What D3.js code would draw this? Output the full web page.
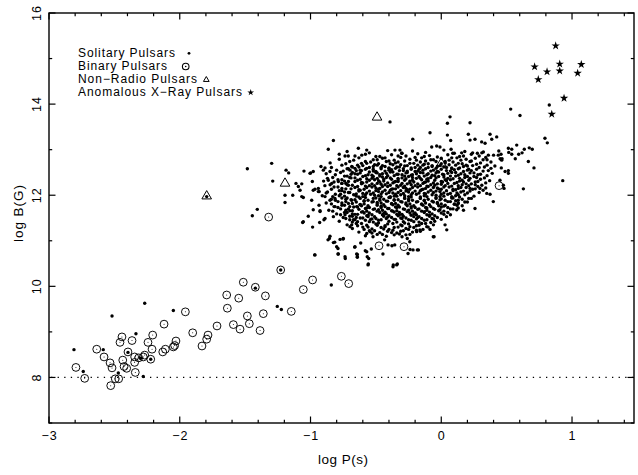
<!DOCTYPE html>
<html><head><meta charset="utf-8">
<script src="https://cdn.jsdelivr.net/npm/d3@7"></script>
<style>
html,body{margin:0;padding:0;background:#fff;}
svg{display:block;}
text{font-family:"Liberation Sans",Arial,Helvetica,sans-serif;fill:#000;}
</style></head>
<body><svg id="c" width="638" height="475"></svg>
<script>
// ---- data: [log P(s), log B(G)] ----
const xTicks = [-3, -2, -1, 0, 1];
const yTicks = [8, 10, 12, 14, 16];
const legendLabels = ["Solitary Pulsars", "Binary Pulsars", "Non\u2212Radio Pulsars", "Anomalous X\u2212Ray Pulsars"];
const deathLineB = 8;

const solitaryOuter = [
[-2.809,8.61],[-2.738,8.13],[-2.585,8.61],[-2.518,9.35],[-2.335,8.96],[-2.396,8.55],[-2.268,9.63],[-2.279,8.02],[-2.049,9.47],
[-1.254,9.56],[-1.223,9.49],[-0.968,10.69],[-1.228,10.36],[-1.422,9.96],[-2.222,8.40],[-2.30,8.42],[-2.47,8.10],[0.929,12.32],[-1.794,11.97],
[-1.483,12.58],[-1.297,12.70],[-1.289,12.31],[-1.445,11.55],[-1.407,11.69],[-1.187,12.55],[-1.167,12.49],[-1.195,12.0],[-1.195,11.84],
[-1.136,12.0],[-1.111,12.26],[-1.067,12.25],[-1.093,12.19],[-1.08,12.11],[-1.05,12.53],[-1.067,11.97],[-1.055,11.95],[-1.055,11.42],
[-0.984,11.30],[-1.017,11.54],[-1.06,11.40],[-0.979,12.11],[-0.94,12.08],[-0.986,12.30],[-1.004,12.48],[-0.979,12.52],[-0.999,12.49],
[-0.935,11.78],[-0.927,11.66],[-0.966,12.13],[-0.933,12.08],[-0.991,11.89],[-0.902,12.55],[-0.889,12.60],[-0.851,12.52],[-0.864,12.33],
[-0.838,12.26],[-0.889,11.97],[-0.851,11.89],[-0.813,11.93],[-0.813,11.75],[-0.787,12.30],[-0.761,12.26],[-0.698,12.55],[-0.685,12.63],
[-0.66,12.59],[-0.979,11.68],[-0.927,11.64],[-0.889,11.49],[-0.825,11.53],[-0.736,11.57],[-0.851,11.10],[-0.856,11.05],[-0.825,10.96],
[-0.80,10.87],[-0.774,11.03],[-0.749,11.05],[-0.966,10.69],[-0.787,10.71],[-0.736,10.65],[-0.66,10.87],[-0.647,10.71],[-0.642,10.65],
[-0.698,11.31],[-0.685,11.35],[-0.672,11.46],[-0.647,11.75],[-0.685,11.89],[-0.57,10.76],[-0.558,10.49],[-0.545,11.20],[-0.57,11.16],
[-0.93,11.40],[-0.897,11.46],
[-0.825,13.20],[-0.864,13.01],[-0.78,12.90],[-0.736,12.86],[-0.711,12.86],[-0.634,13.03],[-0.57,12.99],[-0.608,12.88],[-0.392,13.61],
[-0.086,13.37],[-0.218,13.23],[0.067,13.72],[0.047,13.58],[0.22,13.59],[0.047,13.32],[0.072,13.20],[0.207,13.34],[0.22,13.21],
[0.258,13.23],[0.373,13.34],[0.424,13.28],[0.386,13.23],[0.309,13.17],[0.335,13.14],[-0.073,13.06],[-0.035,13.08],[-0.01,13.06],
[-0.354,12.99],[-0.316,12.99],[-0.303,12.92],[0.075,13.01],[0.088,12.92],[0.156,12.93],[0.24,12.93],[0.276,12.92],[0.322,12.95],
[0.36,12.88],[0.436,12.88],[0.462,12.77],[0.513,13.03],[0.513,12.54],[0.398,11.86],[0.258,11.71],[0.118,11.68],[0.13,11.82],
[0.029,11.35],[0.042,11.24],[-0.061,11.09],[-0.111,11.31],[-0.086,11.25],[-0.188,11.20],[-0.163,11.24],[-0.239,10.81],[-0.175,10.80],
[-0.367,10.47],[-0.336,10.49],[0.296,12.15],[0.348,12.04],[0.373,12.02],[0.449,12.33],[0.475,12.22],
[0.531,13.89],[0.602,13.75],[0.826,13.98],[0.793,13.25],[0.811,13.15],[0.577,13.10],[0.539,13.01],[0.516,12.94],[0.539,12.90],
[0.673,13.04],[0.696,13.01],[0.635,13.01],[0.618,12.93],[0.592,12.90],[0.566,12.80],[0.666,12.74],[0.709,12.60],[0.457,12.90],
[0.465,12.80],[0.488,12.52],[0.513,12.48],[0.459,12.60],[0.48,12.15],[0.628,12.14],
[-0.841,10.03],[-0.866,11.02],[-0.815,10.97],[-0.79,10.83],[-0.79,10.71],[-0.734,10.61],[-0.751,11.04],[-0.662,10.86],[-0.642,10.70],
[-0.642,10.64],[-0.616,10.95],[-0.581,10.78],[-0.566,10.65],[-0.555,10.61],[-0.560,10.47],[-0.535,10.82],[-0.446,10.71],[-0.433,11.02],
[-0.407,10.91],[-0.377,10.89],[-0.356,10.91],[-0.369,10.43],[-0.341,10.47],[-0.254,10.72],[-0.216,10.80],[-0.183,10.80],[-0.241,10.98],
[-0.26,11.05],[-0.055,11.09],[-0.522,11.09]
];

const solitaryCore = [
[-0.72,12.96],[-0.55,12.93],[-0.41,12.98],[-0.30,12.92],[-0.22,12.97],[-0.12,12.94],[0.02,12.99],[0.10,12.92],[0.18,12.96],[0.31,12.93],[0.44,12.97],
[-0.66,12.86],[-0.58,12.90],[-0.47,12.85],[-0.38,12.89],[-0.27,12.86],[-0.18,12.91],[-0.09,12.87],[-0.03,12.84],[0.05,12.89],[0.14,12.85],[0.23,12.90],[0.29,12.86],[0.40,12.88],
[-0.78,12.79],[-0.63,12.82],[-0.52,12.78],[-0.45,12.81],[-0.36,12.77],[-0.31,12.83],[-0.24,12.79],[-0.15,12.82],[-0.08,12.78],[0.00,12.81],[0.06,12.77],[0.12,12.82],[0.19,12.79],[0.26,12.81],[0.35,12.78],[0.45,12.80],
[-0.85,12.71],[-0.70,12.74],[-0.61,12.70],[-0.54,12.73],[-0.48,12.69],[-0.42,12.74],[-0.35,12.71],[-0.28,12.75],[-0.21,12.70],[-0.16,12.73],[-0.10,12.69],[-0.04,12.74],[0.03,12.71],[0.09,12.73],[0.16,12.69],[0.22,12.74],[0.30,12.71],[0.38,12.73],
[-0.92,12.63],[-0.76,12.66],[-0.68,12.62],[-0.60,12.65],[-0.55,12.61],[-0.49,12.66],[-0.43,12.63],[-0.37,12.67],[-0.32,12.62],[-0.26,12.65],[-0.20,12.61],[-0.14,12.66],[-0.07,12.63],[-0.01,12.65],[0.04,12.61],[0.11,12.66],[0.17,12.63],[0.24,12.65],[0.33,12.62],[0.41,12.64],
[-0.80,12.55],[-0.72,12.58],[-0.65,12.54],[-0.58,12.57],[-0.52,12.53],[-0.46,12.58],[-0.40,12.55],[-0.35,12.59],[-0.29,12.54],[-0.23,12.57],[-0.18,12.53],[-0.12,12.58],[-0.06,12.55],[0.00,12.57],[0.07,12.53],[0.13,12.58],[0.20,12.55],[0.27,12.57],[0.36,12.54],
[-0.88,12.47],[-0.77,12.50],[-0.69,12.46],[-0.62,12.49],[-0.56,12.45],[-0.50,12.50],[-0.45,12.47],[-0.39,12.51],[-0.33,12.46],[-0.27,12.49],[-0.22,12.45],[-0.16,12.50],[-0.10,12.47],[-0.04,12.49],[0.02,12.45],[0.08,12.50],[0.15,12.47],[0.22,12.49],[0.30,12.46],[0.39,12.48],
[-0.83,12.39],[-0.74,12.42],[-0.66,12.38],[-0.60,12.41],[-0.53,12.37],[-0.47,12.42],[-0.42,12.39],[-0.36,12.43],[-0.30,12.38],[-0.25,12.41],[-0.19,12.37],[-0.13,12.42],[-0.08,12.39],[-0.02,12.41],[0.05,12.37],[0.11,12.42],[0.18,12.39],[0.25,12.41],[0.33,12.38],
[-0.90,12.31],[-0.79,12.34],[-0.71,12.30],[-0.64,12.33],[-0.57,12.29],[-0.51,12.34],[-0.44,12.31],[-0.38,12.35],[-0.33,12.30],[-0.28,12.33],[-0.21,12.29],[-0.15,12.34],[-0.10,12.31],[-0.05,12.33],[0.01,12.29],[0.07,12.34],[0.14,12.31],[0.21,12.33],[0.28,12.30],[0.37,12.32],
[-0.85,12.23],[-0.76,12.26],[-0.68,12.22],[-0.61,12.25],[-0.55,12.21],[-0.49,12.26],[-0.43,12.23],[-0.37,12.27],[-0.31,12.22],[-0.26,12.25],[-0.20,12.21],[-0.14,12.26],[-0.08,12.23],[-0.03,12.25],[0.03,12.21],[0.10,12.26],[0.16,12.23],[0.23,12.25],[0.31,12.22],
[-0.94,12.15],[-0.82,12.18],[-0.73,12.14],[-0.66,12.17],[-0.59,12.13],[-0.53,12.18],[-0.47,12.15],[-0.41,12.19],[-0.35,12.14],[-0.29,12.17],[-0.24,12.13],[-0.18,12.18],[-0.12,12.15],[-0.06,12.17],[0.00,12.13],[0.06,12.18],[0.13,12.15],[0.19,12.17],[0.26,12.14],[0.34,12.16],
[-0.87,12.07],[-0.78,12.10],[-0.70,12.06],[-0.63,12.09],[-0.57,12.05],[-0.50,12.10],[-0.45,12.07],[-0.39,12.11],[-0.33,12.06],[-0.27,12.09],[-0.22,12.05],[-0.16,12.10],[-0.10,12.07],[-0.04,12.09],[0.02,12.05],[0.09,12.10],[0.15,12.07],[0.22,12.09],[0.29,12.06],
[-0.91,11.99],[-0.81,12.02],[-0.74,11.98],[-0.67,12.01],[-0.60,11.97],[-0.54,12.02],[-0.48,11.99],[-0.42,12.03],[-0.36,11.98],[-0.31,12.01],[-0.25,11.97],[-0.19,12.02],[-0.13,11.99],[-0.07,12.01],[-0.01,11.97],[0.05,12.02],[0.11,11.99],[0.18,12.01],[0.25,11.98],
[-0.84,11.91],[-0.76,11.94],[-0.69,11.90],[-0.62,11.93],[-0.56,11.89],[-0.50,11.94],[-0.44,11.91],[-0.39,11.95],[-0.33,11.90],[-0.28,11.93],[-0.22,11.89],[-0.16,11.94],[-0.10,11.91],[-0.04,11.93],[0.03,11.89],[0.09,11.94],[0.16,11.91],[0.23,11.93],
[-0.88,11.83],[-0.79,11.86],[-0.71,11.82],[-0.65,11.85],[-0.59,11.81],[-0.52,11.86],[-0.46,11.83],[-0.41,11.87],[-0.35,11.82],[-0.30,11.85],[-0.24,11.81],[-0.18,11.86],[-0.12,11.83],[-0.06,11.85],[0.00,11.81],[0.07,11.86],[0.13,11.83],[0.20,11.85],
[-0.82,11.75],[-0.74,11.78],[-0.67,11.74],[-0.61,11.77],[-0.55,11.73],[-0.49,11.78],[-0.43,11.75],[-0.37,11.79],[-0.32,11.74],[-0.26,11.77],[-0.20,11.73],[-0.14,11.78],[-0.08,11.75],[-0.02,11.77],[0.05,11.73],[0.12,11.78],
[-0.86,11.67],[-0.77,11.70],[-0.70,11.66],[-0.63,11.69],[-0.57,11.65],[-0.51,11.70],[-0.45,11.67],[-0.40,11.71],[-0.34,11.66],[-0.28,11.69],[-0.22,11.65],[-0.17,11.70],[-0.11,11.67],[-0.05,11.69],[0.02,11.65],[0.09,11.70],[0.17,11.67],
[-0.80,11.59],[-0.72,11.62],[-0.66,11.58],[-0.59,11.61],[-0.53,11.57],[-0.47,11.62],[-0.42,11.59],[-0.36,11.63],[-0.30,11.58],[-0.24,11.61],[-0.19,11.57],[-0.13,11.62],[-0.07,11.59],[0.00,11.61],[0.07,11.57],
[-0.75,11.51],[-0.68,11.54],[-0.62,11.50],[-0.56,11.53],[-0.50,11.49],[-0.44,11.54],[-0.38,11.51],[-0.33,11.55],[-0.27,11.50],[-0.21,11.53],[-0.15,11.49],[-0.09,11.54],[-0.03,11.51],[0.04,11.53],
[-0.78,11.43],[-0.70,11.46],[-0.64,11.42],[-0.58,11.45],[-0.52,11.41],[-0.46,11.46],[-0.40,11.43],[-0.35,11.47],[-0.29,11.42],[-0.23,11.45],[-0.17,11.41],[-0.11,11.46],[-0.05,11.43],
[-0.72,11.35],[-0.65,11.38],[-0.57,11.34],[-0.50,11.37],[-0.43,11.33],[-0.37,11.38],[-0.31,11.35],[-0.25,11.37],[-0.19,11.33],[-0.12,11.38],[-0.06,11.35],
[-0.68,11.27],[-0.60,11.30],[-0.53,11.26],[-0.46,11.29],[-0.40,11.25],[-0.33,11.30],[-0.27,11.27],[-0.21,11.29],[-0.14,11.25],
[-0.63,11.19],[-0.55,11.22],[-0.47,11.18],[-0.41,11.21],[-0.34,11.17],[-0.29,11.22],[-0.22,11.19],[-0.16,11.21],
[-0.58,11.11],[-0.49,11.14],[-0.42,11.10],[-0.36,11.13],[-0.30,11.09],[-0.24,11.14]
];

const solitaryCore2 = [
[-0.50,12.85],[-0.43,12.82],[-0.33,12.86],[-0.20,12.83],[-0.13,12.85],[0.08,12.82],[0.17,12.86],[0.34,12.83],
[-0.67,12.77],[-0.58,12.74],[-0.49,12.78],[-0.40,12.75],[-0.33,12.73],[-0.19,12.77],[-0.12,12.75],[-0.06,12.78],[0.03,12.74],[0.15,12.77],[0.23,12.75],[0.32,12.78],
[-0.73,12.69],[-0.64,12.66],[-0.57,12.70],[-0.51,12.67],[-0.45,12.65],[-0.39,12.69],[-0.31,12.67],[-0.24,12.70],[-0.18,12.66],[-0.13,12.68],[-0.07,12.65],[0.00,12.69],[0.06,12.67],[0.13,12.70],[0.19,12.66],[0.27,12.68],[0.35,12.66],
[-0.84,12.61],[-0.71,12.58],[-0.63,12.62],[-0.57,12.59],[-0.52,12.57],[-0.46,12.61],[-0.40,12.59],[-0.34,12.62],[-0.29,12.58],[-0.23,12.60],[-0.17,12.57],[-0.10,12.61],[-0.04,12.59],[0.02,12.62],[0.08,12.58],[0.14,12.60],[0.21,12.57],[0.29,12.61],[0.38,12.59],
[-0.75,12.53],[-0.68,12.50],[-0.61,12.54],[-0.55,12.51],[-0.49,12.49],[-0.43,12.53],[-0.37,12.51],[-0.32,12.54],[-0.26,12.50],[-0.20,12.52],[-0.14,12.49],[-0.08,12.53],[-0.02,12.51],[0.04,12.54],[0.11,12.50],[0.17,12.52],[0.25,12.49],[0.32,12.53],
[-0.81,12.45],[-0.72,12.42],[-0.64,12.46],[-0.58,12.43],[-0.52,12.41],[-0.47,12.45],[-0.41,12.43],[-0.34,12.46],[-0.28,12.42],[-0.23,12.44],[-0.17,12.41],[-0.11,12.45],[-0.05,12.43],[0.01,12.46],[0.07,12.42],[0.13,12.44],[0.20,12.41],[0.28,12.45],[0.35,12.43],
[-0.87,12.37],[-0.76,12.34],[-0.69,12.38],[-0.62,12.35],[-0.55,12.33],[-0.49,12.37],[-0.44,12.35],[-0.39,12.38],[-0.33,12.34],[-0.27,12.36],[-0.22,12.33],[-0.16,12.37],[-0.11,12.35],[-0.04,12.38],[0.03,12.34],[0.09,12.36],[0.16,12.33],[0.22,12.37],[0.30,12.35],
[-0.82,12.29],[-0.73,12.26],[-0.66,12.30],[-0.60,12.27],[-0.53,12.25],[-0.47,12.29],[-0.41,12.27],[-0.35,12.30],[-0.30,12.26],[-0.24,12.28],[-0.18,12.25],[-0.12,12.29],[-0.06,12.27],[0.00,12.30],[0.05,12.26],[0.12,12.28],[0.19,12.25],[0.26,12.29],[0.34,12.27],
[-0.89,12.21],[-0.79,12.18],[-0.71,12.22],[-0.64,12.19],[-0.57,12.17],[-0.51,12.21],[-0.45,12.19],[-0.39,12.22],[-0.33,12.18],[-0.28,12.20],[-0.22,12.17],[-0.16,12.21],[-0.10,12.19],[-0.05,12.22],[0.02,12.18],[0.08,12.20],[0.15,12.17],[0.21,12.21],[0.28,12.19],
[-0.84,12.13],[-0.76,12.10],[-0.69,12.14],[-0.62,12.11],[-0.55,12.09],[-0.48,12.13],[-0.43,12.11],[-0.37,12.14],[-0.31,12.10],[-0.26,12.12],[-0.20,12.09],[-0.14,12.13],[-0.08,12.11],[-0.02,12.14],[0.04,12.10],[0.11,12.12],[0.17,12.09],[0.24,12.13],[0.32,12.11],
[-0.88,12.05],[-0.77,12.02],[-0.71,12.06],[-0.65,12.03],[-0.58,12.01],[-0.52,12.05],[-0.46,12.03],[-0.40,12.06],[-0.35,12.02],[-0.29,12.04],[-0.23,12.01],[-0.17,12.05],[-0.12,12.03],[-0.06,12.06],[0.00,12.02],[0.07,12.04],[0.13,12.01],[0.20,12.05],
[-0.83,11.97],[-0.72,11.94],[-0.65,11.98],[-0.58,11.95],[-0.52,11.93],[-0.46,11.97],[-0.40,11.95],[-0.34,11.98],[-0.28,11.94],[-0.23,11.96],[-0.16,11.93],[-0.11,11.97],[-0.04,11.95],[0.02,11.98],[0.08,11.94],[0.14,11.96],[0.21,11.93],
[-0.81,11.89],[-0.73,11.86],[-0.66,11.90],[-0.59,11.87],[-0.53,11.85],[-0.47,11.89],[-0.42,11.87],[-0.36,11.90],[-0.31,11.86],[-0.25,11.88],[-0.19,11.85],[-0.13,11.89],[-0.07,11.87],[-0.01,11.90],[0.05,11.86],[0.11,11.88],[0.18,11.85],
[-0.84,11.81],[-0.76,11.78],[-0.68,11.82],[-0.62,11.79],[-0.56,11.77],[-0.49,11.81],[-0.44,11.79],[-0.38,11.82],[-0.33,11.78],[-0.27,11.80],[-0.21,11.77],[-0.15,11.81],[-0.09,11.79],[-0.03,11.82],[0.03,11.78],[0.10,11.80],[0.16,11.77],
[-0.79,11.73],[-0.71,11.70],[-0.64,11.74],[-0.58,11.71],[-0.52,11.69],[-0.46,11.73],[-0.41,11.71],[-0.35,11.74],[-0.29,11.70],[-0.23,11.72],[-0.18,11.69],[-0.12,11.73],[-0.06,11.71],[0.00,11.74],[0.07,11.70],[0.13,11.72],
[-0.83,11.65],[-0.74,11.62],[-0.68,11.66],[-0.61,11.63],[-0.55,11.61],[-0.49,11.65],[-0.43,11.63],[-0.38,11.66],[-0.32,11.62],[-0.26,11.64],[-0.20,11.61],[-0.15,11.65],[-0.09,11.63],[-0.02,11.66],[0.05,11.62],
[-0.77,11.57],[-0.70,11.54],[-0.64,11.58],[-0.57,11.55],[-0.51,11.53],[-0.45,11.57],[-0.40,11.55],[-0.34,11.58],[-0.29,11.54],[-0.23,11.56],[-0.17,11.53],[-0.11,11.57],[-0.05,11.55],[0.02,11.58],
[-0.73,11.49],[-0.66,11.46],[-0.60,11.50],[-0.54,11.47],[-0.48,11.45],[-0.42,11.49],[-0.36,11.47],[-0.31,11.50],[-0.25,11.46],[-0.19,11.48],[-0.13,11.45],[-0.07,11.49],[0.00,11.47],
[-0.68,11.41],[-0.61,11.38],[-0.55,11.42],[-0.48,11.39],[-0.41,11.37],[-0.34,11.41],[-0.28,11.39],[-0.21,11.42],[-0.15,11.38],[-0.08,11.40],
[-0.64,11.33],[-0.56,11.30],[-0.49,11.34],[-0.43,11.31],[-0.36,11.29],[-0.30,11.33],[-0.24,11.31],[-0.17,11.34],[-0.10,11.30],
[-0.59,11.25],[-0.51,11.22],[-0.44,11.26],[-0.37,11.23],[-0.31,11.21],[-0.25,11.25],[-0.19,11.23],
[-0.53,11.17],[-0.45,11.14],[-0.38,11.18],[-0.32,11.15],[-0.27,11.13]
];

const solitaryCore3 = [
[-0.52,12.63],[-0.40,12.60],[-0.28,12.64],[-0.16,12.61],[-0.03,12.63],[0.08,12.60],[0.20,12.64],
[-0.62,12.55],[-0.50,12.52],[-0.38,12.56],[-0.26,12.53],[-0.14,12.55],[-0.03,12.52],[0.10,12.56],[0.23,12.54],
[-0.66,12.47],[-0.53,12.44],[-0.42,12.48],[-0.30,12.45],[-0.19,12.47],[-0.07,12.44],[0.05,12.48],[0.18,12.45],
[-0.70,12.39],[-0.57,12.36],[-0.45,12.40],[-0.33,12.37],[-0.22,12.39],[-0.10,12.36],[0.02,12.40],[0.14,12.37],[0.27,12.39],
[-0.74,12.31],[-0.61,12.28],[-0.48,12.32],[-0.36,12.29],[-0.24,12.31],[-0.13,12.28],[0.04,12.32],[0.17,12.29],
[-0.72,12.23],[-0.58,12.20],[-0.46,12.24],[-0.34,12.21],[-0.23,12.23],[-0.11,12.20],[0.00,12.24],[0.13,12.21],[0.26,12.23],
[-0.76,12.15],[-0.63,12.12],[-0.50,12.16],[-0.38,12.13],[-0.27,12.15],[-0.15,12.12],[-0.03,12.16],[0.09,12.13],[0.22,12.15],
[-0.74,12.07],[-0.60,12.04],[-0.48,12.08],[-0.37,12.05],[-0.25,12.07],[-0.13,12.04],[-0.01,12.08],[0.12,12.05],
[-0.78,11.99],[-0.63,11.96],[-0.51,12.00],[-0.39,11.97],[-0.28,11.99],[-0.16,11.96],[-0.04,12.00],[0.08,11.97],
[-0.73,11.91],[-0.59,11.88],[-0.47,11.92],[-0.36,11.89],[-0.25,11.91],[-0.13,11.88],[0.00,11.92],[0.13,11.89],
[-0.76,11.83],[-0.62,11.80],[-0.49,11.84],[-0.38,11.81],[-0.27,11.83],[-0.15,11.80],[-0.03,11.84],[0.10,11.81],
[-0.70,11.75],[-0.57,11.72],[-0.46,11.76],[-0.34,11.73],[-0.23,11.75],[-0.11,11.72],[0.02,11.76],
[-0.73,11.67],[-0.60,11.64],[-0.48,11.68],[-0.37,11.65],[-0.25,11.67],[-0.13,11.64],[-0.01,11.68],
[-0.68,11.59],[-0.56,11.56],[-0.44,11.60],[-0.32,11.57],[-0.21,11.59],[-0.09,11.56],
[-0.65,11.51],[-0.53,11.48],[-0.41,11.52],[-0.30,11.49],[-0.18,11.51],[-0.06,11.48]
];

const binary = [
[-2.794,8.22],[-2.727,7.98],[-2.635,8.62],[-2.579,8.45],[-2.533,8.32],[-2.518,8.21],[-2.528,7.82],[-2.493,7.97],[-2.467,7.97],
[-2.457,8.77],[-2.442,8.89],[-2.436,8.38],[-2.426,8.24],[-2.396,8.56],[-2.406,8.20],[-2.365,8.81],[-2.345,8.45],[-2.345,8.33],
[-2.34,8.11],[-2.314,8.43],[-2.279,8.45],[-2.268,8.49],[-2.243,8.77],[-2.222,8.40],[-2.207,8.93],[-2.212,8.62],[-2.13,8.56],
[-2.12,9.17],[-2.11,8.62],[-2.049,8.67],[-2.029,8.80],[-2.039,8.70],[-1.957,9.44],[-1.901,8.98],[-1.83,8.69],[-1.794,8.84],
[-1.784,8.93],[-1.715,9.13],[-1.641,9.81],[-1.636,9.52],[-1.59,9.16],[-1.549,9.74],[-1.539,9.06],[-1.514,10.09],[-1.483,9.35],
[-1.468,9.18],[-1.422,9.98],[-1.386,9.03],[-1.361,9.40],[-1.345,9.79],[-1.228,10.36],[-1.147,9.45],[-1.055,9.93],[-0.984,10.14],
[-0.764,10.22],[-0.708,10.06],[-0.476,10.89],[-0.285,10.87],[-1.32,11.52],[0.442,12.21]
];

const nonRadio = [[-1.794,11.98],[-1.195,12.26],[-0.491,13.71],[0.0,12.70]];

const axp = [[0.875,15.28],[0.714,14.82],[0.809,14.71],[0.906,14.88],[0.906,14.73],[1.071,14.87],[1.043,14.68],[0.742,14.54],[0.939,14.13],[0.845,13.78]];

// ---- drawing ----
const svg = d3.select("#c");
const L = 49, R = 634, T = 13, B = 423;
const x = d3.scaleLinear().domain([-3, 1.474]).range([L, R]);
const y = d3.scaleLinear().domain([7, 16]).range([B, T]);
const fmt = d => d < 0 ? "\u2212" + Math.abs(d) : String(d);

// ticks (inward, all four sides)
const xMinor = d3.range(-3, 1.47, 0.2).map(v => +v.toFixed(2));
const yMinor = d3.range(7, 16.01, 1);
const isMajorX = v => Math.abs(v - Math.round(v)) < 1e-6;
const isMajorY = v => Math.round(v) % 2 === 0;
const g = svg.append("g").attr("stroke", "#000").attr("stroke-width", 1.2);
xMinor.forEach(v => {
  const len = isMajorX(v) ? 6.5 : 3.2;
  g.append("line").attr("x1", x(v)).attr("x2", x(v)).attr("y1", B).attr("y2", B - len);
  g.append("line").attr("x1", x(v)).attr("x2", x(v)).attr("y1", T).attr("y2", T + len);
});
yMinor.forEach(v => {
  const len = isMajorY(v) ? 6.5 : 3.2;
  g.append("line").attr("y1", y(v)).attr("y2", y(v)).attr("x1", L).attr("x2", L + len);
  g.append("line").attr("y1", y(v)).attr("y2", y(v)).attr("x1", R).attr("x2", R - len);
});

// tick labels via d3 axis (tick lines hidden)
const xAx = svg.append("g").attr("transform", `translate(0,${B})`)
  .call(d3.axisBottom(x).tickValues(xTicks).tickFormat(fmt).tickSize(0).tickPadding(0));
xAx.select(".domain").remove();
xAx.selectAll("text").attr("dy", null).attr("y", 17).attr("font-size", 12.5)
  .attr("letter-spacing", 1)
  .attr("font-family", '"Liberation Sans",Arial,sans-serif');

yTicks.forEach(v => {
  svg.append("text").attr("transform", `translate(41,${y(v)}) rotate(-90)`)
    .attr("text-anchor", "middle").attr("font-size", 12.5).attr("letter-spacing", 1).text(fmt(v));
});

svg.append("text").attr("x", 318).attr("y", 464).attr("font-size", 13.5)
  .attr("textLength", 50).attr("lengthAdjust", "spacing").text("log P(s)");
svg.append("text").attr("transform", `translate(23,242) rotate(-90)`).attr("font-size", 13.5)
  .attr("textLength", 57).attr("lengthAdjust", "spacing").text("log B(G)");

// death line
svg.append("line").attr("x1", L + 2).attr("x2", R).attr("y1", y(deathLineB)).attr("y2", y(deathLineB))
  .attr("stroke", "#000").attr("stroke-width", 1.3).attr("stroke-dasharray", "1.3,5.3");

// marks
const plot = svg.append("g");
plot.selectAll("circle.s").data(solitaryOuter.concat(solitaryCore, solitaryCore2, solitaryCore3)).join("circle").attr("class", "s")
  .attr("cx", d => x(d[0])).attr("cy", d => y(d[1])).attr("r", 1.7).attr("fill", "#000");

plot.selectAll("circle.b").data(binary).join("circle").attr("class", "b")
  .attr("cx", d => x(d[0])).attr("cy", d => y(d[1])).attr("r", 3.9)
  .attr("fill", "none").attr("stroke", "#000").attr("stroke-width", 0.95);
plot.selectAll("circle.bc").data(binary).join("circle").attr("class", "bc")
  .attr("cx", d => x(d[0])).attr("cy", d => y(d[1])).attr("r", 0.5).attr("fill", "#000");

const tri = d3.symbol().type(d3.symbolTriangle).size(40);
plot.selectAll("path.t").data(nonRadio).join("path").attr("class", "t")
  .attr("d", tri).attr("transform", d => `translate(${x(d[0])},${y(d[1])})`)
  .attr("fill", "none").attr("stroke", "#000").attr("stroke-width", 1);

const star = d3.symbol().type(d3.symbolStar).size(22);
plot.selectAll("path.a").data(axp).join("path").attr("class", "a")
  .attr("d", star).attr("transform", d => `translate(${x(d[0])},${y(d[1])})`).attr("fill", "#000");

// frame
svg.append("rect").attr("x", L).attr("y", T).attr("width", R - L).attr("height", B - T)
  .attr("fill", "none").attr("stroke", "#000").attr("stroke-width", 1.4);

// legend
const lg = svg.append("g");
const lgY = [57, 70, 83, 96];
const lgW = [97, 89, 119, 164];
legendLabels.forEach((t, i) => {
  lg.append("text").attr("x", 78).attr("y", lgY[i]).attr("font-size", 12)
    .attr("textLength", lgW[i]).attr("lengthAdjust", "spacing").text(t);
});
lg.append("circle").attr("cx", 189).attr("cy", 53.3).attr("r", 1.4).attr("fill", "#000");
lg.append("circle").attr("cx", 185.7).attr("cy", 66.5).attr("r", 3.3).attr("fill", "none").attr("stroke", "#000").attr("stroke-width", 1.1);
lg.append("circle").attr("cx", 185.7).attr("cy", 66.5).attr("r", 0.8).attr("fill", "#000");
lg.append("path").attr("d", d3.symbol().type(d3.symbolTriangle).size(14)).attr("transform", "translate(206.3,79.8)")
  .attr("fill", "none").attr("stroke", "#000").attr("stroke-width", 1);
lg.append("path").attr("d", d3.symbol().type(d3.symbolStar).size(14)).attr("transform", "translate(250.7,92.5)").attr("fill", "#000");
</script></body></html>
